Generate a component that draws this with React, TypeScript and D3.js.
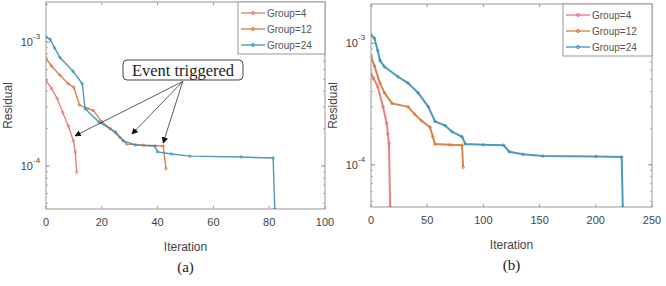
import React from 'react'
import * as d3 from 'd3'

// [iteration, residual] pairs
const a4: [number, number][] = [[0, 4.9e-4], [2, 4.2e-4], [4, 3.5e-4], [6, 2.7e-4], [8, 2.1e-4], [9.8, 1.6e-4], [10.5, 1.3e-4], [11, 8.9e-5]]
const a12: [number, number][] = [[0, 7.4e-4], [2, 6.4e-4], [5, 5.4e-4], [8, 4.6e-4], [10, 4.3e-4], [12, 3.1e-4], [15, 2.9e-4], [17, 2.8e-4], [20, 2.27e-4], [23, 2.0e-4], [26.5, 1.7e-4], [29, 1.5e-4], [35, 1.47e-4], [42, 1.45e-4], [43, 9.5e-5]]
const a24: [number, number][] = [[0, 1.1e-3], [1.5, 1.05e-3], [3, 9e-4], [5, 7.5e-4], [9.7, 5.8e-4], [13, 4.6e-4], [14, 2.9e-4], [19, 2.26e-4], [25, 1.88e-4], [27.6, 1.6e-4], [32, 1.48e-4], [39, 1.45e-4], [40, 1.3e-4], [45, 1.25e-4], [51.6, 1.2e-4], [70, 1.18e-4], [81.4, 1.16e-4], [82, 4.5e-5]]

const b4: [number, number][] = [[0, 5.6e-4], [2, 5.2e-4], [6, 4.4e-4], [10.7, 3.0e-4], [14, 2.2e-4], [15, 1.8e-4], [16, 1.5e-4], [17, 4.5e-5]]
const b12: [number, number][] = [[0, 7.8e-4], [3, 6.5e-4], [8, 4.7e-4], [12, 3.9e-4], [18.7, 3.2e-4], [33, 3.0e-4], [39, 2.6e-4], [45, 2.3e-4], [52.5, 2.04e-4], [55, 1.7e-4], [57, 1.48e-4], [70, 1.46e-4], [81, 1.45e-4], [82, 9.5e-5]]
const b24: [number, number][] = [[0, 1.17e-3], [3, 1.1e-3], [6, 8.7e-4], [8, 7.2e-4], [12, 6.4e-4], [24, 5.3e-4], [33, 4.7e-4], [42, 3.9e-4], [51, 3.0e-4], [57, 2.27e-4], [66, 2.1e-4], [72, 1.87e-4], [81, 1.7e-4], [84, 1.48e-4], [100, 1.46e-4], [118, 1.45e-4], [123, 1.28e-4], [135, 1.22e-4], [153, 1.18e-4], [200, 1.17e-4], [223, 1.16e-4], [224, 4.5e-5]]

const groupNames = ['Group=4', 'Group=12', 'Group=24']
const colors = ['#e46a70', '#d0702e', '#2e88b4']
const ticksA = [0, 20, 40, 60, 80, 100]
const ticksB = [0, 50, 100, 150, 200, 250]
const yDomain: [number, number] = [4.5e-5, 2.1e-3]

// annotation (panel a): arrow tips in data coords
const arrowFrom: [number, number] = [49, 4.8e-4]
const arrowTips: [number, number][] = [[10.4, 1.75e-4], [30.8, 1.81e-4], [42, 1.53e-4]]

const sans = 'Liberation Sans, Arial, sans-serif'
const serif = 'Liberation Serif, Times New Roman, serif'

type PanelProps = {
  id: string
  left: number
  right: number
  top: number
  bottom: number
  xMax: number
  xTicks: number[]
  series: [number, number][][]
  lineW: number
  legend: { x0: number; x1: number; y0: number; y1: number }
  label: string
  annotate?: boolean
}

function Panel({ id, left, right, top, bottom, xMax, xTicks, series, lineW, legend, label, annotate }: PanelProps) {
  const x = d3.scaleLinear().domain([0, xMax]).range([left, right])
  const y = d3.scaleLog().domain(yDomain).range([bottom, top])
  const line = d3.line<[number, number]>().x((d) => x(d[0])).y((d) => y(d[1]))
  const minor: number[] = []
  for (let e = -5; e <= -3; e++) for (let k = 1; k <= 9; k++) {
    const v = k * Math.pow(10, e)
    if (v >= yDomain[0] && v <= yDomain[1]) minor.push(v)
  }
  const cx = (left + right) / 2
  return (
    <g>
      <defs>
        <clipPath id={'clip' + id}>
          <rect x={left} y={top} width={right - left} height={bottom - top} />
        </clipPath>
        <marker id={'arr' + id} viewBox="0 0 10 10" refX="9" refY="5" markerWidth="8" markerHeight="8" orient="auto-start-reverse">
          <path d="M0,0 L10,5 L0,10 z" fill="#111" />
        </marker>
      </defs>
      <rect x={left} y={top} width={right - left} height={bottom - top} fill="#fff" stroke="#999" strokeWidth={1} />
      {/* ticks */}
      {xTicks.map((t) => (
        <g key={'xt' + t}>
          <line x1={x(t)} x2={x(t)} y1={bottom} y2={bottom - 3} stroke="#999" />
          <line x1={x(t)} x2={x(t)} y1={top} y2={top + 3} stroke="#999" />
          <text x={x(t)} y={bottom + 17} textAnchor="middle" fontFamily={sans} fontSize={11} fill="#444">{t}</text>
        </g>
      ))}
      {minor.map((v) => (
        <g key={'ym' + v}>
          <line x1={left} x2={left + 2} y1={y(v)} y2={y(v)} stroke="#aaa" />
          <line x1={right} x2={right - 2} y1={y(v)} y2={y(v)} stroke="#aaa" />
        </g>
      ))}
      {[1e-4, 1e-3].map((v) => (
        <g key={'ym' + v}>
          <line x1={left} x2={left + 4} y1={y(v)} y2={y(v)} stroke="#999" />
          <line x1={right} x2={right - 4} y1={y(v)} y2={y(v)} stroke="#999" />
          <text x={left - 13} y={y(v) + 4} textAnchor="end" fontFamily={sans} fontSize={11} fill="#444">10</text>
          <text x={left - 13} y={y(v) - 3} textAnchor="start" fontFamily={sans} fontSize={8} fill="#444">{Math.round(Math.log10(v))}</text>
        </g>
      ))}
      <text transform={`translate(${left - 34},${(top + bottom) / 2}) rotate(-90)`} textAnchor="middle" fontFamily={sans} fontSize={12} fill="#444">Residual</text>
      <text x={cx} y={bottom + 42} textAnchor="middle" fontFamily={sans} fontSize={12} fill="#444">Iteration</text>
      <text x={cx} y={bottom + 63} textAnchor="middle" fontFamily={serif} fontSize={15} fill="#222">({label})</text>
      {/* series */}
      <g clipPath={`url(#clip${id})`}>
        {series.map((s, i) => (
          <g key={'s' + i}>
            <path d={line(s) || ''} fill="none" stroke={colors[i]} strokeWidth={lineW} opacity={0.85} />
            {s.map((p, j) => (
              <circle key={j} cx={x(p[0])} cy={y(p[1])} r={1.3} fill="none" stroke={colors[i]} strokeWidth={0.8} opacity={0.8} />
            ))}
          </g>
        ))}
      </g>
      {/* annotation */}
      {annotate && (
        <g>
          {arrowTips.map((t, i) => (
            <line key={'ar' + i} x1={x(arrowFrom[0])} y1={y(arrowFrom[1])} x2={x(t[0])} y2={y(t[1])} stroke="#333" strokeWidth={0.8} markerEnd={`url(#arr${id})`} />
          ))}
          <rect x={x(27.6)} y={60} width={x(70.6) - x(27.6)} height={20} rx={4} fill="#fff" stroke="#444" strokeWidth={1} />
          <text x={(x(27.6) + x(70.6)) / 2} y={75.5} textAnchor="middle" fontFamily={serif} fontSize={16.5} fill="#222">Event triggered</text>
        </g>
      )}
      {/* legend */}
      <rect x={legend.x0} y={legend.y0} width={legend.x1 - legend.x0} height={legend.y1 - legend.y0} fill="#fff" stroke="#999" strokeWidth={1} />
      {groupNames.map((g, i) => {
        const ly = legend.y0 + 11 + i * 16
        return (
          <g key={'lg' + i}>
            <line x1={legend.x0 + 3} x2={legend.x0 + 27} y1={ly} y2={ly} stroke={colors[i]} strokeWidth={1.2} />
            <circle cx={legend.x0 + 15} cy={ly} r={1.6} fill="none" stroke={colors[i]} strokeWidth={0.8} />
            <text x={legend.x0 + 29} y={ly + 3.5} fontFamily={sans} fontSize={10} fill="#555">{g}</text>
          </g>
        )
      })}
    </g>
  )
}

export default function App() {
  return (
    <svg width={666} height={286} style={{ position: 'absolute', left: 0, top: 0, background: '#fff' }}>
      <rect width={666} height={286} fill="#fff" />
      <Panel id="a" left={46} right={325} top={2} bottom={209} xMax={100} xTicks={ticksA} series={[a4, a12, a24]} lineW={1.4}
        legend={{ x0: 238, x1: 325, y0: 2, y1: 54 }} label="a" annotate />
      <Panel id="b" left={371} right={652} top={4} bottom={207} xMax={250} xTicks={ticksB} series={[b4, b12, b24]} lineW={2}
        legend={{ x0: 563, x1: 652, y0: 4, y1: 56 }} label="b" />
    </svg>
  )
}
